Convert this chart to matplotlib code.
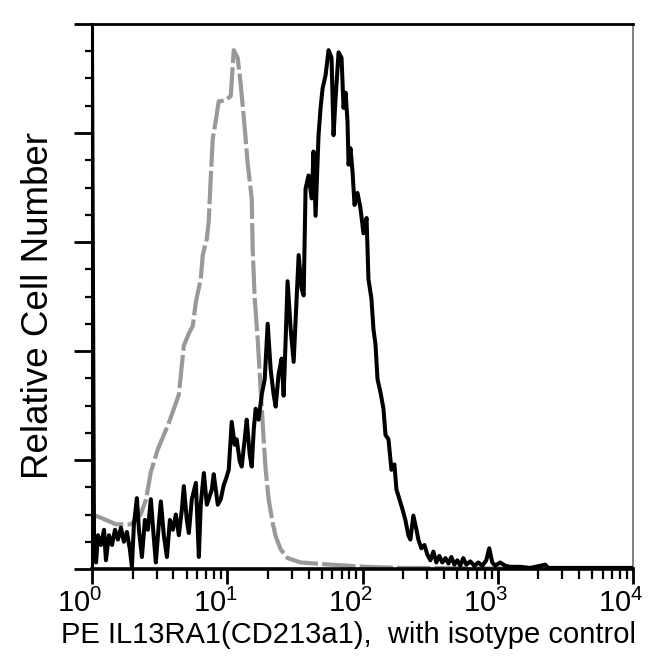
import numpy as np
import matplotlib.pyplot as plt
from matplotlib.ticker import LogLocator, MultipleLocator, LogFormatterSciNotation
from matplotlib.transforms import ScaledTranslation

plt.rcParams['font.family'] = ['Liberation Sans', 'DejaVu Sans']
plt.rcParams['mathtext.fontset'] = 'custom'
plt.rcParams['mathtext.rm'] = 'Liberation Sans'
plt.rcParams['mathtext.it'] = 'Liberation Sans'

# isotype control (gray dashed) - log10 intensity / cell count
iso_log = [0.0, 0.066, 0.177, 0.288, 0.36, 0.40, 0.435, 0.487, 0.531, 0.568,
           0.605, 0.642, 0.679, 0.716, 0.745, 0.768, 0.804, 0.819, 0.849, 0.863,
           0.878, 0.893, 0.915, 0.937, 0.989, 1.026, 1.048, 1.077, 1.100, 1.129,
           1.151, 1.181, 1.188, 1.203, 1.225, 1.247, 1.269, 1.284, 1.306, 1.336,
           1.358, 1.395, 1.446, 1.542, 1.764, 2.022, 2.280, 4.0]
iso_count = [50, 47, 41, 41, 50, 64, 89, 110, 123, 134,
             147, 160, 205, 216, 223, 245, 266, 288, 303, 319,
             359, 395, 411, 429, 430, 434, 476, 469, 444, 405,
             372, 340, 294, 248, 211, 165, 119, 91, 64, 42,
             30, 18, 10, 6, 4, 2, 1, 0]

# IL13RA1 stained (black)
stain_log = [0.0, 0.015, 0.030, 0.044, 0.066, 0.089, 0.103, 0.125, 0.148, 0.170,
             0.192, 0.214, 0.236, 0.258, 0.280, 0.295, 0.310, 0.332, 0.347, 0.369,
             0.391, 0.413, 0.435, 0.458, 0.472, 0.494, 0.509, 0.531, 0.554, 0.576,
             0.598, 0.620, 0.642, 0.664, 0.679, 0.701, 0.716, 0.738, 0.768, 0.790,
             0.804, 0.827, 0.849, 0.863, 0.886, 0.900, 0.930, 0.952, 0.974, 0.989,
             1.011, 1.033, 1.055, 1.070, 1.092, 1.107, 1.129, 1.144, 1.166, 1.181,
             1.196, 1.210, 1.232, 1.255, 1.277, 1.299, 1.321, 1.343, 1.358, 1.380,
             1.402, 1.417, 1.432, 1.446, 1.469, 1.491, 1.513, 1.528, 1.550, 1.565,
             1.579, 1.601, 1.624, 1.638, 1.653, 1.675, 1.690, 1.705, 1.727, 1.749,
             1.771, 1.786, 1.801, 1.823, 1.845, 1.860, 1.875, 1.889, 1.897, 1.911,
             1.926, 1.941, 1.963, 1.985, 2.007, 2.030, 2.044, 2.066, 2.081, 2.096,
             2.111, 2.133, 2.155, 2.170, 2.192, 2.214, 2.236, 2.251, 2.273, 2.295,
             2.317, 2.339, 2.354, 2.376, 2.399, 2.413, 2.435, 2.458, 2.480, 2.502,
             2.524, 2.546, 2.568, 2.590, 2.613, 2.635, 2.657, 2.679, 2.701, 2.723,
             2.745, 2.768, 2.797, 2.827, 2.856, 2.886, 2.915, 2.937, 2.959, 2.982,
             3.018, 3.055, 3.092, 3.166, 3.240, 3.351, 3.373, 3.461, 4.0]
stain_count = [480, 27, 6, 31, 22, 36, 8, 31, 22, 36,
               27, 38, 25, 34, 18, 2, 41, 65, 36, 11,
               45, 36, 64, 27, 6, 41, 62, 31, 11, 45,
               36, 50, 31, 54, 76, 45, 33, 64, 79, 11,
               59, 88, 59, 64, 73, 87, 59, 64, 77, 82,
               91, 135, 114, 119, 99, 94, 119, 137, 105, 94,
               128, 147, 137, 160, 174, 225, 183, 160, 149, 179,
               193, 159, 211, 264, 220, 190, 248, 288, 257, 251,
               349, 361, 340, 383, 324, 398, 423, 441, 453, 476,
               469, 398, 432, 474, 469, 423, 437, 411, 371, 386,
               365, 334, 345, 331, 308, 322, 266, 248, 220, 206,
               174, 162, 147, 123, 119, 91, 96, 73, 64, 55,
               45, 31, 27, 49, 36, 27, 19, 22, 13, 8,
               16, 6, 12, 6, 10, 5, 11, 4, 8, 3,
               10, 4, 7, 3, 6, 3, 8, 19, 6, 3,
               6, 3, 2, 2, 1, 4, 1, 1, 1]

iso_x = 10 ** np.array(iso_log)
stain_x = 10 ** np.array(stain_log)

fig = plt.figure(figsize=(6.5, 6.72), dpi=100)
ax = fig.add_axes([92 / 650, 103 / 672, 541 / 650, 545 / 672])

ax.plot(iso_x, iso_count, color='#999999', linewidth=3.0, linestyle=(0, (8, 1.0)),
        zorder=2)
ax.plot(stain_x, stain_count, color='black', linewidth=2.9, zorder=3)

ax.set_xscale('log')
ax.set_xlim(1, 1e4)
ax.set_ylim(0, 500)

ax.xaxis.set_major_locator(LogLocator(base=10, numticks=10))
ax.xaxis.set_minor_locator(LogLocator(base=10, subs=np.arange(2, 10), numticks=10))
ax.xaxis.set_major_formatter(LogFormatterSciNotation())
ax.yaxis.set_major_locator(MultipleLocator(100))
ax.yaxis.set_minor_locator(MultipleLocator(25))

ax.tick_params(axis='x', which='major', direction='out', length=11, width=2, labelsize=21, pad=3)
ax.tick_params(axis='x', which='minor', direction='out', length=7, width=1.6)
ax.tick_params(axis='y', which='major', direction='out', length=13, width=2, labelleft=False)
ax.tick_params(axis='y', which='minor', direction='out', length=5, width=1.6)

for lab in ax.get_xticklabels():
    lab.set_transform(lab.get_transform() + ScaledTranslation(-0.12, 0, fig.dpi_scale_trans))

ax.spines['left'].set_linewidth(2.2)
ax.spines['bottom'].set_linewidth(2.6)
ax.spines['top'].set_linewidth(2)
ax.spines['right'].set_linewidth(1.3)
ax.spines['right'].set_color('#777777')

ax.set_xlabel('PE IL13RA1(CD213a1),  with isotype control', fontsize=21, labelpad=0)
ax.xaxis.set_label_coords(0.475, -0.095)
fig.text(39 / 650, 1 - 305 / 672, 'Relative Cell Number', fontsize=26.5,
         rotation=90, ha='center', va='center')

fig.savefig('out.png', dpi=100, facecolor='white')
